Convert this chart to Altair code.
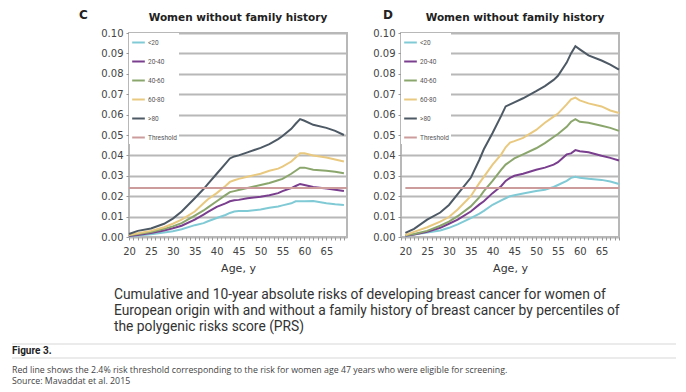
import altair as alt
import pandas as pd

ages = [20, 22, 25, 28, 30, 32, 35, 37, 38, 40, 42, 43, 44, 45, 47, 50, 52, 54, 55, 57,
        58, 59, 60, 62, 65, 67, 69]
groups = ["<20", "20-40", "40-60", "60-80", ">80", "Threshold"]
colors = ["#80cad6", "#7a3e8e", "#8ba66c", "#e9c97f", "#4d5965", "#cc9c9c"]
threshold = 0.024

c_lt20 = [0.0003, 0.0007, 0.0013, 0.0022, 0.0028, 0.0038, 0.0058, 0.0068, 0.0077, 0.0093,
          0.0108, 0.0118, 0.0125, 0.0127, 0.0127, 0.0135, 0.0143, 0.015, 0.0155, 0.0165,
          0.0175, 0.0175, 0.0175, 0.0177, 0.0165, 0.016, 0.0157]
c_20_40 = [0.0005, 0.001, 0.002, 0.0032, 0.0043, 0.0055, 0.0085, 0.011, 0.0123, 0.0148,
           0.0165, 0.0175, 0.018, 0.0182, 0.019, 0.0197, 0.0205, 0.0215, 0.0225, 0.024,
           0.025, 0.026, 0.0255, 0.0245, 0.0238, 0.0232, 0.0225]
c_40_60 = [0.0008, 0.0015, 0.0025, 0.004, 0.0052, 0.0068, 0.0105, 0.013, 0.0145, 0.0175,
           0.0205, 0.022, 0.0225, 0.023, 0.024, 0.0255, 0.0265, 0.0278, 0.0285, 0.031,
           0.0325, 0.034, 0.034, 0.033, 0.0325, 0.032, 0.0313]
c_60_80 = [0.001, 0.0018, 0.003, 0.0048, 0.0065, 0.0085, 0.0125, 0.0165, 0.0185, 0.0215,
           0.025, 0.027, 0.0278, 0.0285, 0.0295, 0.031, 0.0325, 0.0335, 0.0345, 0.037,
           0.039, 0.041, 0.041, 0.040, 0.039, 0.038, 0.037]
c_gt80 = [0.0015, 0.003, 0.0042, 0.0065, 0.009, 0.0125, 0.019, 0.0235, 0.026, 0.031,
          0.036, 0.0385, 0.0395, 0.040, 0.0415, 0.0437, 0.0455, 0.048, 0.0495, 0.053,
          0.0555, 0.0578, 0.057, 0.055, 0.0535, 0.052, 0.050]

d_lt20 = [0.0003, 0.0012, 0.0022, 0.0032, 0.0045, 0.0062, 0.0093, 0.0115, 0.0128, 0.0158,
          0.018, 0.019, 0.020, 0.0205, 0.0213, 0.0225, 0.0232, 0.0245, 0.0255, 0.0275,
          0.029, 0.0295, 0.029, 0.0285, 0.028, 0.0272, 0.026]
d_20_40 = [0.0006, 0.0012, 0.0025, 0.0045, 0.0065, 0.0085, 0.0125, 0.016, 0.0175, 0.0215,
           0.025, 0.0275, 0.029, 0.030, 0.031, 0.033, 0.034, 0.0355, 0.0367, 0.0405,
           0.041, 0.0426, 0.042, 0.0415, 0.0398, 0.0388, 0.0375]
d_40_60 = [0.0008, 0.0015, 0.003, 0.0055, 0.0075, 0.0102, 0.015, 0.0195, 0.0225, 0.0275,
           0.033, 0.0355, 0.037, 0.0385, 0.0405, 0.0435, 0.046, 0.049, 0.0505, 0.054,
           0.0565, 0.0578, 0.0565, 0.056, 0.0545, 0.0535, 0.052]
d_60_80 = [0.001, 0.0025, 0.0048, 0.0075, 0.0098, 0.0135, 0.020, 0.0265, 0.0295, 0.0355,
           0.0405, 0.044, 0.0463, 0.047, 0.0486, 0.0525, 0.056, 0.059, 0.0605, 0.065,
           0.0675, 0.0683, 0.067, 0.0655, 0.064, 0.062, 0.0608]
d_gt80 = [0.002, 0.004, 0.0085, 0.012, 0.0157, 0.021, 0.029, 0.038, 0.043, 0.051,
          0.0595, 0.064, 0.065, 0.066, 0.068, 0.0715, 0.074, 0.077, 0.079, 0.0855,
          0.09, 0.0935, 0.092, 0.089, 0.0865, 0.0845, 0.082]

panel_title = "Women without family history"
x_title = "Age, y"
y_ticks = [0.0, 0.01, 0.02, 0.03, 0.04, 0.05, 0.06, 0.07, 0.08, 0.09, 0.10]
caption = ["Cumulative and 10-year absolute risks of developing breast cancer for women of",
           "European origin with and without a family history of breast cancer by percentiles of",
           "the polygenic risks score (PRS)"]
fig_label = "Figure 3."
footnote = ["Red line shows the 2.4% risk threshold corresponding to the risk for women age 47 years who were eligible for screening.",
            "Source: Mavaddat et al. 2015"]

GRID = "#b8b8b8"
AXF = "DejaVu Sans"
W, H = 218, 204


def long_frame(series_list, t_end):
    rows = []
    for g, vals in zip(groups[:5], series_list):
        assert len(vals) == len(ages)
        for a, v in zip(ages, vals):
            rows.append({"age": a, "risk": v, "group": g})
    for a in [ages[0], t_end]:
        rows.append({"age": a, "risk": threshold, "group": "Threshold"})
    return pd.DataFrame(rows)


def panel(df, letter, xdom, tick_vals, letter_x, title_dx):
    lines = alt.Chart(df).mark_line(strokeWidth=2).encode(
        x=alt.X("age:Q",
                scale=alt.Scale(domain=xdom, nice=False, zero=False),
                axis=alt.Axis(values=tick_vals,
                              labelExpr="datum.value % 5 == 0 ? datum.label : ''",
                              title=x_title, grid=False, domain=False, labelFlush=False,
                              tickSize=3, tickColor="#999999", labelColor="#444444",
                              labelFont=AXF, labelFontSize=10, labelPadding=6,
                              titleFont=AXF, titleFontSize=11, titleFontWeight="normal",
                              titleColor="#333333", titlePadding=6, labelOverlap=False)),
        y=alt.Y("risk:Q",
                scale=alt.Scale(domain=[0, 0.1], nice=False),
                axis=alt.Axis(values=y_ticks, format=".2f", title=None, grid=True,
                              gridColor=GRID, gridWidth=2, domain=False, labelFlush=False,
                              tickSize=3, tickColor="#999999", labelColor="#444444",
                              labelFont=AXF, labelFontSize=10, labelPadding=3)),
        color=alt.Color("group:N",
                        scale=alt.Scale(domain=groups, range=colors),
                        legend=alt.Legend(orient="top-left", offset=0, title=None,
                                          symbolType="stroke", symbolStrokeWidth=2,
                                          symbolSize=160, labelFont="Roboto", labelFontSize=6.5,
                                          labelColor="#555555", labelOffset=2,
                                          fillColor="white", padding=2, rowPadding=7)),
        detail="group:N",
    )
    one = pd.DataFrame({"t": [letter]})
    lab = alt.Chart(one).mark_text(
        font="DejaVu Sans", fontSize=12, fontWeight="bold", color="#222222",
        align="left", baseline="middle"
    ).encode(text="t:N", x=alt.value(letter_x), y=alt.value(-18))
    ttl = alt.Chart(one).mark_text(
        text=panel_title, font="DejaVu Sans", fontSize=10.5, fontWeight="bold",
        color="#222222", align="center", baseline="middle"
    ).encode(x=alt.value(W / 2 + title_dx), y=alt.value(-15.5))
    return alt.layer(lines, lab, ttl).properties(
        width=W, height=H, view=alt.ViewBackground(stroke=GRID, strokeWidth=2))


df_c = long_frame([c_lt20, c_20_40, c_40_60, c_60_80, c_gt80], 69.7)
df_d = long_frame([d_lt20, d_20_40, d_40_60, d_60_80, d_gt80], 69)

pc = panel(df_c, "C", [20, 69.7], list(range(20, 70)), -50, 0)
pd_ = panel(df_d, "D", [19, 69], list(range(19, 70)), -18, 5)

spacer = alt.Chart(pd.DataFrame({"a": [0]})).mark_point(opacity=0).encode(
    x=alt.value(0), y=alt.value(0)).properties(width=46, height=10)

top = alt.hconcat(spacer, pc, pd_, spacing=19).resolve_scale(
    x="independent", color="independent").resolve_legend(color="independent")

one = pd.DataFrame({"a": [0]})
cap = alt.Chart(one).mark_text(
    text="\n".join(caption), lineBreak="\n", lineHeight=15.8, font="Roboto", fontSize=13.8,
    color="#333333", align="left", baseline="middle"
).encode(x=alt.value(102), y=alt.value(20))
figl = alt.Chart(one).mark_text(
    text=fig_label, font="Roboto", fontSize=10, fontWeight="bold", color="#222222",
    align="left", baseline="middle"
).encode(x=alt.value(0), y=alt.value(76))
rule1 = alt.Chart(one).mark_rule(color="#e4e4e4", strokeWidth=1.5).encode(
    x=alt.value(0), x2=alt.value(664), y=alt.value(69))
rule2 = alt.Chart(one).mark_rule(color="#e4e4e4", strokeWidth=1.5).encode(
    x=alt.value(0), x2=alt.value(664), y=alt.value(83))
foot = alt.Chart(one).mark_text(
    text="\n".join(footnote), lineBreak="\n", lineHeight=11, font="Open Sans", fontSize=8.8,
    color="#444444", align="left", baseline="middle"
).encode(x=alt.value(0), y=alt.value(95))
footer = alt.layer(rule1, rule2, cap, figl, foot).properties(width=664, height=104)

chart = alt.vconcat(top, footer, spacing=0).properties(
    padding={"left": 0, "top": 0, "right": 0, "bottom": 0}
).configure_view(stroke="transparent")

chart.save("out.html", embed_options={"renderer": "svg", "actions": False})
